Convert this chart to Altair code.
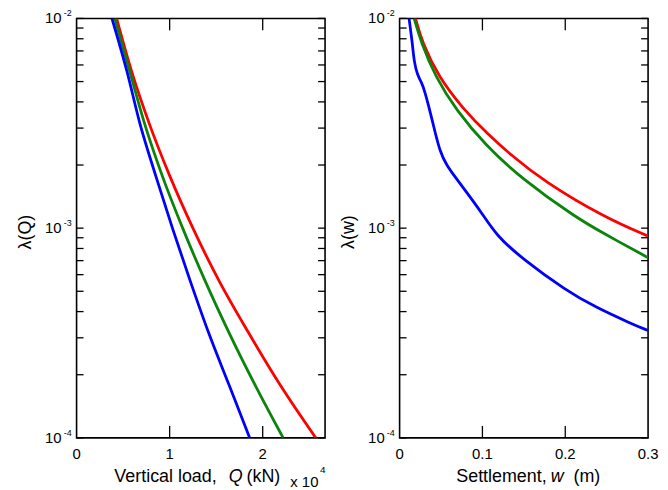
import altair as alt
import pandas as pd

# ---------------- data ----------------
# Left panel: probability level lambda(Q) and vertical load Q (x 10^4 kN)
lam_Q = [0.01, 0.00562, 0.00316, 0.00178, 0.001, 0.000562, 0.000316, 0.000178, 0.0001]
Q_blue = [0.38, 0.54, 0.68, 0.85, 1.03, 1.22, 1.42, 1.64, 1.86]
Q_green = [0.41, 0.57, 0.73, 0.92, 1.14, 1.38, 1.64, 1.92, 2.22]
Q_red = [0.43, 0.59, 0.78, 1.00, 1.25, 1.53, 1.85, 2.19, 2.57]

# Right panel: settlement w (m) and lambda(w)
w_blue = [0.0114, 0.0153, 0.0176, 0.0216, 0.0265, 0.0306, 0.0369, 0.0427, 0.0488,
          0.0565, 0.0682, 0.08, 0.0975, 0.117, 0.1467, 0.2015, 0.2369, 0.28, 0.3]
lam_w_blue = [0.01, 0.00769, 0.00618, 0.00535, 0.00497, 0.00446, 0.00359, 0.00288, 0.00232,
              0.002, 0.00173, 0.0015, 0.00121, 0.00092, 0.000723, 0.000502, 0.000419, 0.00035, 0.000325]
w_green = [0.0176, 0.0259, 0.0435, 0.0682, 0.1035, 0.1467, 0.2133, 0.2486, 0.3]
lam_w_green = [0.01, 0.00769, 0.00525, 0.00366, 0.00249, 0.00173, 0.00112, 0.000933, 0.000723]
w_red = [0.0192, 0.0271, 0.0471, 0.0765, 0.1071, 0.1329, 0.1741, 0.2482, 0.3]
lam_w_red = [0.01, 0.0077, 0.00525, 0.00371, 0.00279, 0.00226, 0.00167, 0.00112, 0.000916]

series = ["red", "green", "blue"]
series_colors = ["#ff0000", "#0a840a", "#0000ff"]

# axis ticks / labels
y_major = [0.01, 0.001, 0.0001]
y_exponents = ["-2", "-3", "-4"]
y_ticks = [0.0001, 0.0002, 0.0003, 0.0004, 0.0005, 0.0006, 0.0007, 0.0008, 0.0009,
           0.001, 0.002, 0.003, 0.004, 0.005, 0.006, 0.007, 0.008, 0.009, 0.01]
xl_labels = [0, 1, 2]
xl_label_text = ["0", "1", "2"]
xl_ticks = [1, 2]
xr_labels = [0, 0.1, 0.2, 0.3]
xr_label_text = ["0", "0.1", "0.2", "0.3"]
xr_ticks = [0.1, 0.2]

W, H = 250, 422
FONT = "Liberation Sans"


def long_df(xs_list, ys_list):
    rows = []
    for s, xs, ys in zip(series, xs_list, ys_list):
        for x, y in zip(xs, ys):
            rows.append({"s": s, "x": x, "lam": y})
    return pd.DataFrame(rows)


def text_layer(txt, x, y, size, italic=False, align="left", baseline="alphabetic", angle=0):
    return alt.Chart(pd.DataFrame({"t": [txt]})).mark_text(
        align=align, baseline=baseline, fontSize=size, font=FONT, angle=angle,
        fontStyle="italic" if italic else "normal", color="black"
    ).encode(x=alt.value(x), y=alt.value(y), text="t:N")


def panel(df, xdomain, xlabels, xlabel_text, xticks, ytitle, title_parts, interp):
    xs = alt.Scale(domain=xdomain, nice=False, zero=False)
    ys = alt.Scale(type="log", domain=[0.0001, 0.01], nice=False)

    lines = alt.Chart(df).mark_line(strokeWidth=2.8, interpolate=interp, clip=True).encode(
        x=alt.X("x:Q", scale=xs, axis=None),
        y=alt.Y("lam:Q", scale=ys, axis=None),
        color=alt.Color("s:N", scale=alt.Scale(domain=series, range=series_colors), legend=None),
    )

    ydf = pd.DataFrame({"v": y_ticks})
    xdf = pd.DataFrame({"v": xticks})
    tick_style = dict(color="black", strokeWidth=1.3)
    yl = alt.Chart(ydf).mark_rule(**tick_style).encode(
        y=alt.Y("v:Q", scale=ys, axis=None), x=alt.value(0), x2=alt.value(7))
    yr = alt.Chart(ydf).mark_rule(**tick_style).encode(
        y=alt.Y("v:Q", scale=ys, axis=None), x=alt.value(W), x2=alt.value(W - 7))
    xb = alt.Chart(xdf).mark_rule(**tick_style).encode(
        x=alt.X("v:Q", scale=xs, axis=None), y=alt.value(H), y2=alt.value(H - 12))
    xt = alt.Chart(xdf).mark_rule(**tick_style).encode(
        x=alt.X("v:Q", scale=xs, axis=None), y=alt.value(0), y2=alt.value(12))

    ylab_df = pd.DataFrame({"lam": y_major, "t": ["10"] * len(y_major), "e": y_exponents})
    ylabs = alt.Chart(ylab_df).mark_text(
        align="right", baseline="middle", fontSize=15, font=FONT, color="black"
    ).encode(x=alt.value(-15), y=alt.Y("lam:Q", scale=ys, axis=None), text="t:N")
    exps = alt.Chart(ylab_df).mark_text(
        align="left", baseline="alphabetic", fontSize=9, font=FONT, dy=-2, color="black"
    ).encode(x=alt.value(-13), y=alt.Y("lam:Q", scale=ys, axis=None), text="e:N")

    xlab_df = pd.DataFrame({"v": xlabels, "t": xlabel_text})
    xlabs = alt.Chart(xlab_df).mark_text(
        align="center", baseline="top", fontSize=15, font=FONT, color="black"
    ).encode(x=alt.X("v:Q", scale=xs, axis=None), y=alt.value(H + 9), text="t:N")

    ytit = text_layer(ytitle, -51, H / 2 + 4, 18, False, "center", "middle", 270)
    texts = [text_layer(*p) for p in title_parts]
    return alt.layer(lines, yl, yr, xb, xt, ylabs, exps, xlabs, ytit, *texts).properties(
        width=W, height=H)


left = panel(
    long_df([Q_red, Q_green, Q_blue], [lam_Q, lam_Q, lam_Q]),
    [0, 2.67], xl_labels, xl_label_text, xl_ticks, "λ(Q)",
    [("Vertical load,", 141, H + 44, 18, False, "right"),
     ("Q", 153, H + 44, 18, True),
     ("(kN)", 171, H + 44, 18, False),
     ("x 10", 215, H + 49, 15, False),
     ("4", 245, H + 35, 10, False)],
    "monotone",
)
right = panel(
    long_df([w_red, w_green, w_blue], [lam_w_red, lam_w_green, lam_w_blue]),
    [0, 0.3], xr_labels, xr_label_text, xr_ticks, "λ(w)",
    [("Settlement,", 148, H + 44, 18, False, "right"),
     ("w", 152, H + 44, 18, True),
     ("(m)", 175, H + 44, 18, False)],
    "basis",
)

chart = alt.hconcat(left, right, spacing=12).properties(
    padding={"left": 8, "top": -1, "right": 0, "bottom": 4}
).configure_view(stroke="black", strokeWidth=1.6)

chart.save("out.html", embed_options={"renderer": "svg", "actions": False})
